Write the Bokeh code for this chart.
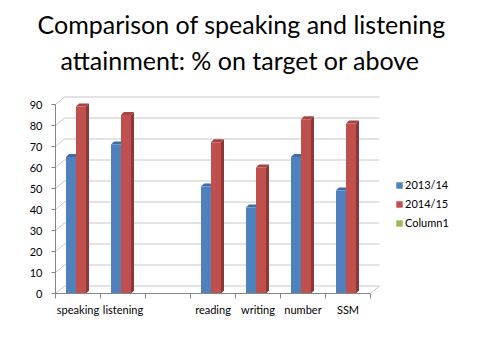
from bokeh.plotting import figure
from bokeh.models import Range1d, FixedTicker, Title, Legend, LegendItem
from bokeh.embed import file_html
from bokeh.resources import INLINE

# ---- data ----
categories = ["speaking", "listening", "", "reading", "writing", "number", "SSM"]
series_names = ["2013/14", "2014/15", "Column1"]
values_1314 = [65, 71, None, 51, 41, 65, 49]
values_1415 = [89, 85, None, 72, 60, 83, 81]
values_column1 = [None, None, None, None, None, None, None]
y_ticks = [0, 10, 20, 30, 40, 50, 60, 70, 80, 90]
title_lines = ["Comparison of speaking and listening", "attainment: % on target or above"]

# ---- styling / geometry (pixel sizes converted to data units) ----
FONT = "Lato"
n = len(categories)
W, H = 464, 344
LEFT, TOP, BOTTOM = 55, 93, 51
PX_X = 45.0          # px per category
PX_Y = 2.1           # px per value unit
wall_dx = 9 / PX_X   # back wall offset
wall_dy = 7.5 / PX_Y
side_dx = 3 / PX_X   # bar depth
side_dy = 3 / PX_Y
bar_w = 10 / PX_X
group_shift = -2 / PX_X
NAN = float("nan")

colors = {
    "2013/14": ("#4F81BD", "#385D8A", "#3F6DA5"),
    "2014/15": ("#C0504D", "#8C3836", "#A54542"),
    "Column1": ("#9BBB59", "#76923C", "#86A34A"),
}

frame_w = W - LEFT
frame_h = H - TOP - BOTTOM
p = figure(width=W, height=H, output_backend="svg", toolbar_location=None,
           x_range=Range1d(0, frame_w / PX_X), y_range=Range1d(0, frame_h / PX_Y),
           min_border_left=LEFT, min_border_right=0,
           min_border_top=TOP, min_border_bottom=BOTTOM)
p.outline_line_color = None
p.grid.visible = False
p.background_fill_color = "white"
p.border_fill_color = "white"

# back wall gridlines + side-wall diagonals
gx0 = [wall_dx] * len(y_ticks)
gx1 = [n + wall_dx] * len(y_ticks)
gy = [t + wall_dy for t in y_ticks]
p.segment(x0=gx0, y0=gy, x1=gx1, y1=gy, line_color="#c8c8c8", line_width=1)
p.segment(x0=[0] * len(y_ticks), y0=y_ticks, x1=gx0, y1=gy, line_color="#c8c8c8", line_width=1)
p.segment(x0=[n], y0=[0], x1=[n + wall_dx], y1=[wall_dy], line_color="#c8c8c8", line_width=1)

renderers = {}
series = [("2013/14", values_1314), ("2014/15", values_1415), ("Column1", values_column1)]
for si, (name, vals) in enumerate(series):
    front, side, top = colors[name]
    L, R, T, sx, sy, tx, ty = [], [], [], [], [], [], []
    for i, v in enumerate(vals):
        c = i + 0.5 + group_shift
        left = c - bar_w + si * bar_w
        right = left + bar_w
        vv = NAN if v is None else v
        L.append(left); R.append(right); T.append(vv)
        if v is None:
            continue
        sx.append([right, right + side_dx, right + side_dx, right])
        sy.append([0, side_dy, v + side_dy, v])
        tx.append([left, right, right + side_dx, left + side_dx])
        ty.append([v, v, v + side_dy, v + side_dy])
    if sx:
        p.patches(xs=sx, ys=sy, fill_color=side, line_color=None)
        p.patches(xs=tx, ys=ty, fill_color=top, line_color=None)
    r = p.quad(left=L, right=R, bottom=[0] * len(T), top=T, fill_color=front, line_color=None)
    renderers[name] = r

# axes
centers = [i + 0.5 for i in range(n) if categories[i]]
bounds_ticks = list(range(n + 1))
xa = p.xaxis[0]
xa.ticker = FixedTicker(ticks=centers, minor_ticks=bounds_ticks)
xa.major_label_overrides = {i + 0.5: categories[i] for i in range(n) if categories[i]}
xa.bounds = (0, n)
xa.axis_line_color = "#868686"
xa.major_tick_line_color = None
xa.major_tick_out = 0
xa.major_tick_in = 0
xa.minor_tick_line_color = "#868686"
xa.minor_tick_out = 5
xa.minor_tick_in = 0
xa.major_label_standoff = 4
xa.major_label_text_font = FONT
xa.major_label_text_font_size = "11px"
xa.major_label_text_color = "black"

ya = p.yaxis[0]
ya.ticker = FixedTicker(ticks=y_ticks)
ya.bounds = (0, 90)
ya.axis_line_color = "#868686"
ya.major_tick_line_color = "#868686"
ya.major_tick_out = 4
ya.major_tick_in = 0
ya.minor_tick_line_color = None
ya.major_label_standoff = 9
ya.major_label_text_font = FONT
ya.major_label_text_font_size = "11px"
ya.major_label_text_color = "black"

legend = Legend(items=[LegendItem(label=nm, renderers=[renderers[nm]]) for nm in series_names],
                location=(340, 64), glyph_width=8, glyph_height=8, label_height=8,
                spacing=6, padding=0, margin=0, label_standoff=2,
                label_text_font=FONT, label_text_font_size="11px", label_text_color="black",
                border_line_color=None, background_fill_alpha=0)
p.add_layout(legend)

p.title.text = title_lines[0]
p.title.align = "left"
p.title.offset = 240 - 203 - LEFT
p.title.text_font = FONT
p.title.text_font_size = "25px"
p.title.text_font_style = "normal"
p.title.text_color = "black"
p.title.standoff = -28
p.add_layout(Title(text=title_lines[1], align="left", offset=240 - 180 - LEFT, text_font=FONT,
                   text_font_size="25px", text_font_style="normal", text_color="black",
                   standoff=37), "above")

open("out.html", "w").write(file_html(p, INLINE))
